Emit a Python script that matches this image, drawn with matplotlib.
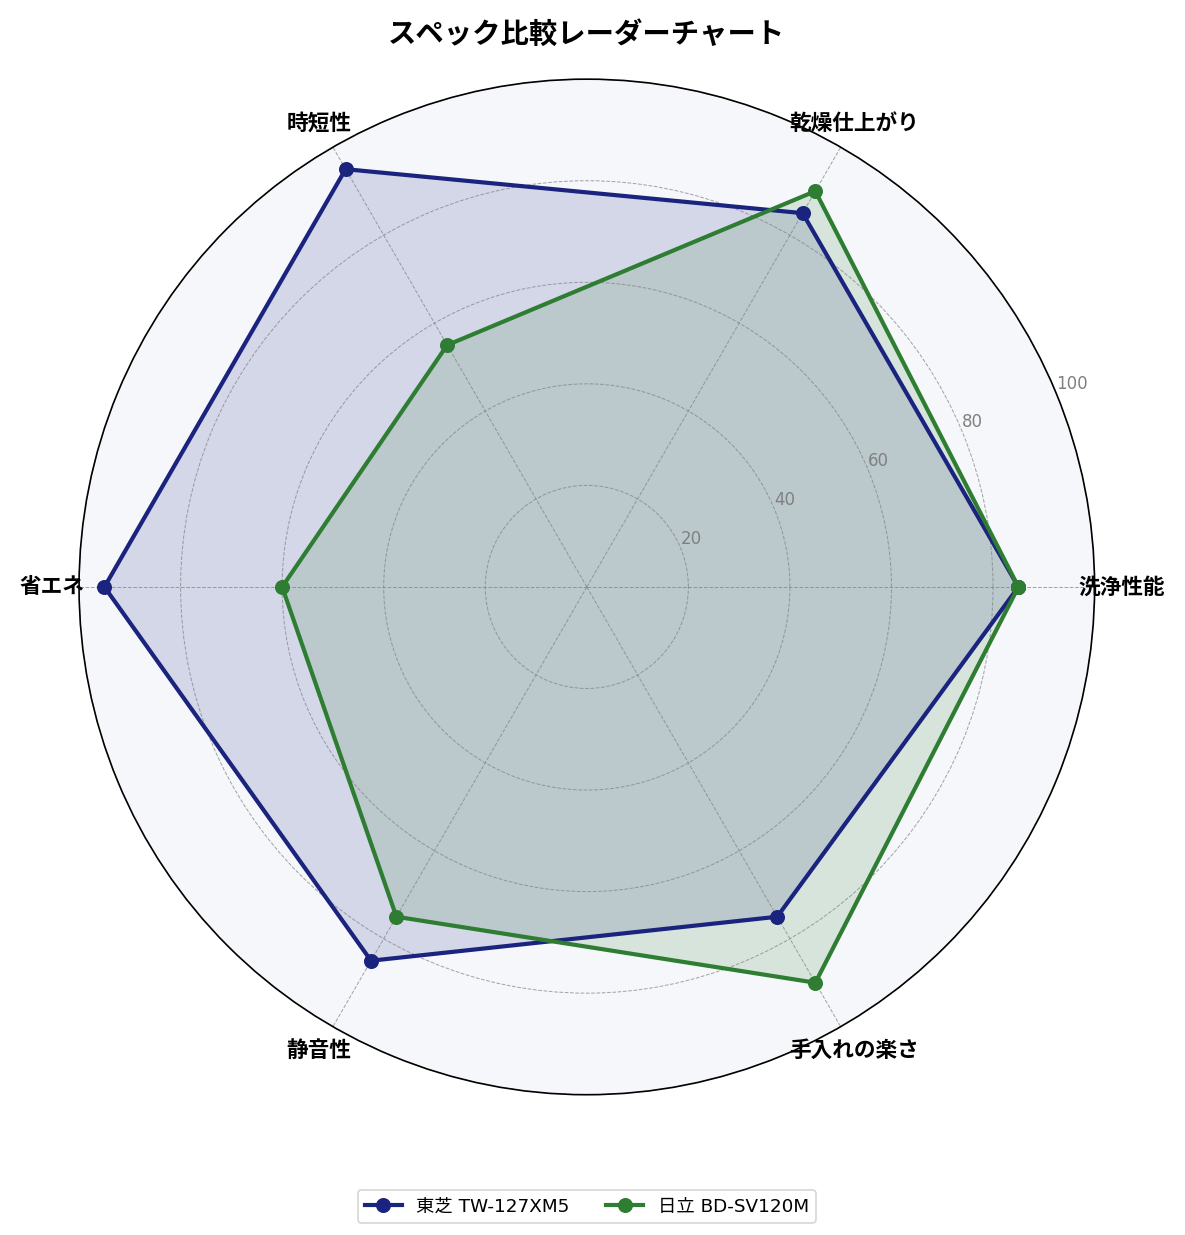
import numpy as np
import matplotlib
matplotlib.use('Agg')
from matplotlib import pyplot as plt

plt.rcParams['font.family'] = ['Noto Sans CJK JP', 'DejaVu Sans']
latin_first = ['DejaVu Sans', 'Noto Sans CJK JP']

# データ
categories = ['洗浄性能', '乾燥仕上がり', '時短性', '省エネ', '静音性', '手入れの楽さ']
toshiba = [85, 85, 95, 95, 85, 75]
hitachi = [85, 90, 55, 60, 75, 90]
series_names = ['東芝 TW-127XM5', '日立 BD-SV120M']
ticks = [20, 40, 60, 80, 100]

n = len(categories)
angles = np.linspace(0, 2 * np.pi, n, endpoint=False).tolist()
angles += angles[:1]

fig = plt.figure(figsize=(1185 / 120, 1235 / 120), dpi=120)
ax = fig.add_axes([0.0667, 0.1134, 0.857, 0.8227], projection='polar')
ax.set_facecolor('#f5f7fa')

colors = ['#1a237e', '#2e7d32']
for vals, name, c in zip([toshiba, hitachi], series_names, colors):
    v = vals + vals[:1]
    ax.plot(angles, v, color=c, linewidth=2.5, marker='o', markersize=8, label=name)
    ax.fill(angles, v, color=c, alpha=0.15)

ax.set_ylim(0, 100)
ax.set_xticks(angles[:-1])
ax.set_xticklabels(categories, fontsize=13, fontweight='bold')
ax.tick_params(axis='x', pad=6)
ax.set_yticks(ticks)
ax.set_yticklabels([str(t) for t in ticks], fontsize=10, color='gray', family=latin_first)
ax.set_rlabel_position(22.5)
ax.grid(color='gray', linestyle='--', linewidth=0.6, alpha=0.7)
ax.spines['polar'].set_linewidth(1.0)

ax.set_title('スペック比較レーダーチャート', fontsize=17, fontweight='bold', pad=22)
ax.legend(loc='upper center', bbox_to_anchor=(0.5, -0.085), ncol=2,
          prop={'family': latin_first, 'size': 11})

fig.savefig('out.png', dpi=120)
